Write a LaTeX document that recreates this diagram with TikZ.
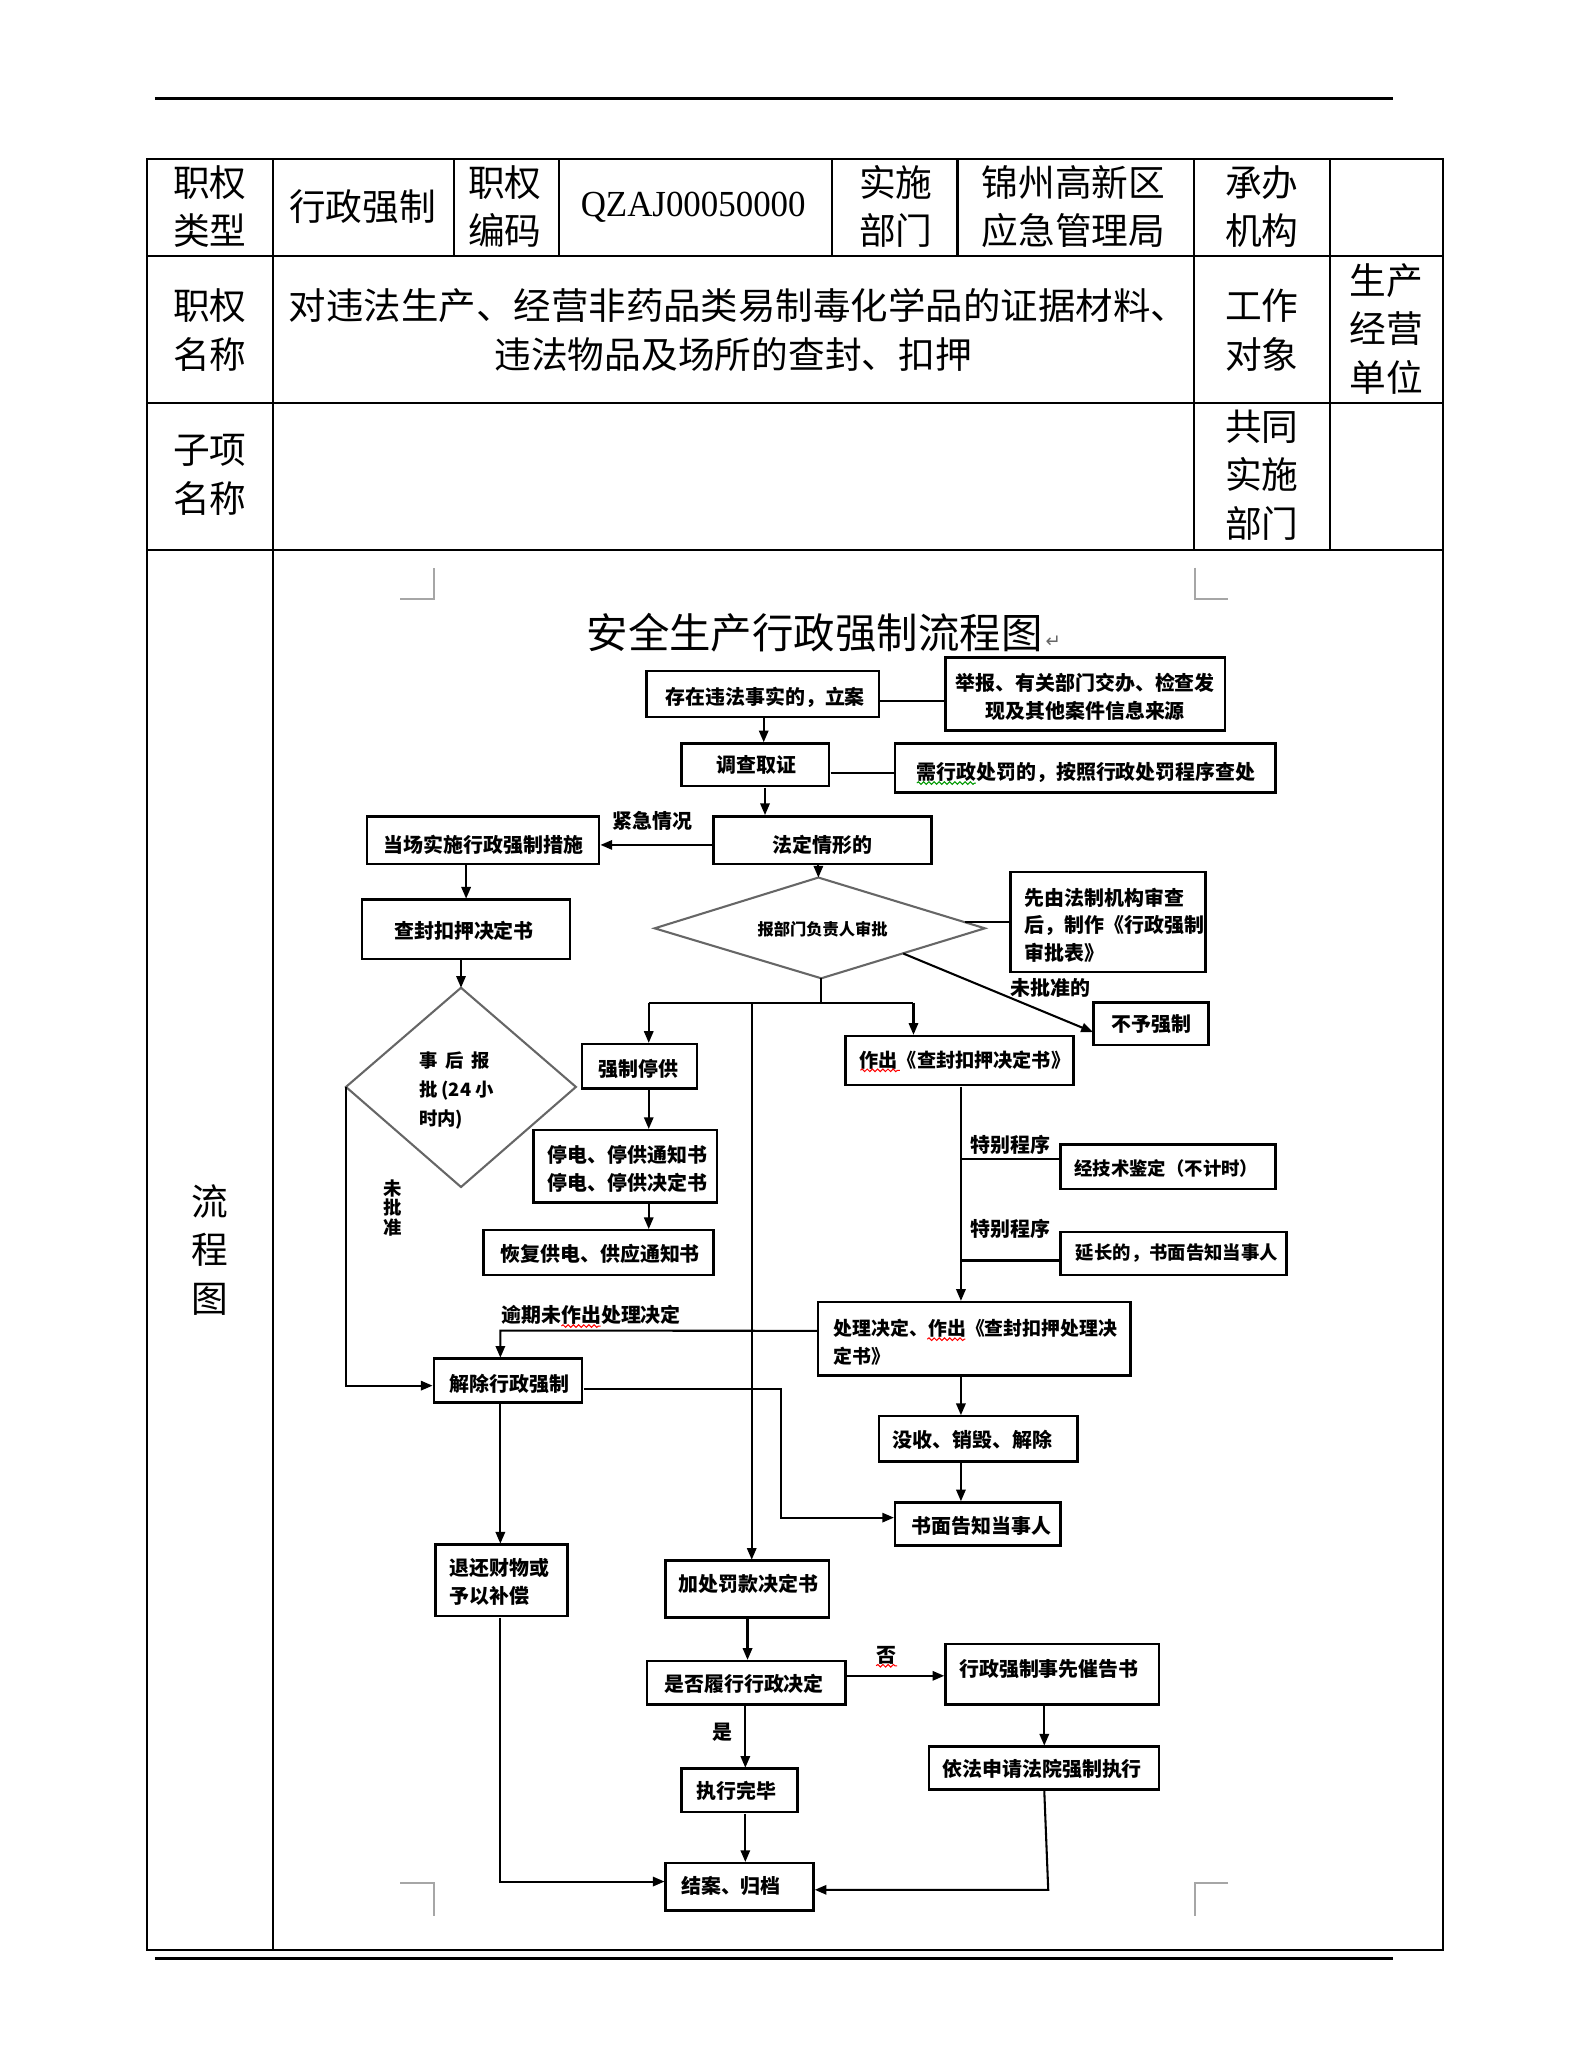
\documentclass[tikz,border=0pt]{standalone}
\usepackage{fontspec}
\newfontfamily\cjk{Noto Sans CJK SC}
\newfontfamily\lserif{Liberation Serif}
\newfontfamily\djv{DejaVu Sans}
\usetikzlibrary{arrows.meta,decorations.pathmorphing,calc}
\begin{document}
\begin{tikzpicture}[x=0.5pt,y=-0.5pt,
 tbl/.style={font=\cjk\fontsize{14pt}{18.5pt}\selectfont, align=center, inner sep=0pt},
 bx/.style={draw, line width=1pt, inner sep=0pt},
 ft/.style={font=\cjk\bfseries\fontsize{7.6pt}{10.6pt}\selectfont, inner sep=0pt},
 arr/.style={line width=0.8pt, -{Triangle[length=4.5pt,width=3.6pt]}},
 ln/.style={line width=0.8pt},
 dia/.style={draw=black!60, line width=0.8pt},
 cmark/.style={draw=black!35, line width=0.8pt},
 wavy/.style={draw=red, line width=0.4pt, decorate, decoration={snake, amplitude=0.5pt, segment length=2pt}},
 tl/.style={line width=0.8pt}
]
\fill[white] (0,0) rectangle (1224,1584);
\useasboundingbox (0,0) rectangle (1224,1584);
\begin{scope}[scale=1.011, transform shape]
% header / footer rules
\draw[line width=1.2pt] (118,75) -- (1062,75);
\draw[line width=1.2pt] (118,1493) -- (1062,1493);

% table
\draw[tl] (112,121) rectangle (1100,1487);
\draw[tl] (112,195) -- (1100,195);
\draw[tl] (112,307) -- (1100,307);
\draw[tl] (112,419) -- (1100,419);
\draw[tl] (208,121) -- (208,1487);
\foreach \xx in {346,426,634,730} {\draw[tl] (\xx,121) -- (\xx,195);}
\draw[tl] (910,121) -- (910,419);
\draw[tl] (1014,121) -- (1014,419);

\node[tbl] (ta) at (160,157.5) {职权\\类型};
\node[tbl] (tb) at (276.5,157.5) {行政强制};
\node[tbl] (tc) at (385,157.5) {职权\\编码};
\node[tbl, font=\lserif\fontsize{14pt}{16pt}\selectfont] (td) at (528.5,158) {\scalebox{0.95}[1]{QZAJ00050000}};
\node[tbl] (te) at (683,157.5) {实施\\部门};
\node[tbl] (tf) at (818.5,157.5) {锦州高新区\\应急管理局};
\node[tbl] (tg) at (962,157.5) {承办\\机构};
\node[tbl] (th) at (160,251.5) {职权\\名称};
\node[tbl] (ti1) at (563,233) {\scalebox{1.02}[1]{对违法生产、经营非药品类易制毒化学品的证据材料、}};
\node[tbl] (ti2) at (559,270) {违法物品及场所的查封、扣押};
\node[tbl] (tj) at (962,251.5) {工作\\对象};
\node[tbl] (tk) at (1057,250.5) {生产\\经营\\单位};
\node[tbl] (tl1) at (160,362) {子项\\名称};
\node[tbl] (tm) at (962,362) {共同\\实施\\部门};
\node[tbl] (tn) at (160,953) {流\\程\\图};

% corner marks
\draw[cmark] (305.3,456.9) -- (330.7,456.9) -- (330.7,432.7);
\draw[cmark] (910.9,432.7) -- (910.9,456.9) -- (936.3,456.9);
\draw[cmark] (305.3,1435.4) -- (330.7,1435.4) -- (330.7,1460.9);
\draw[cmark] (936.3,1435.4) -- (910.9,1435.4) -- (910.9,1460.9);

% title
\node[font=\cjk\fontsize{15.8pt}{18pt}\selectfont, inner sep=0pt] (title) at (621,482) {安全生产行政强制流程图};
\node[font=\djv\fontsize{7pt}{8pt}\selectfont, text=black!60, inner sep=0pt] (tret) at (803,489) {↵};

% boxes
\node[bx, minimum width=88.5pt, minimum height=17.5pt] (B1) at (581.5,529) {};
\node[ft] (B1t) at (583.4,531.9) {存在违法事实的，立案};
\node[bx, minimum width=106.6pt, minimum height=27.8pt] (B2) at (827.4,529.2) {};
\node[ft, align=center] (B2t) at (827.4,531.3) {举报、有关部门交办、检查发\\现及其他案件信息来源};
\node[bx, minimum width=56.25pt, minimum height=16.3pt] (B3) at (575.8,583.1) {};
\node[ft] (B3t) at (576.5,582.9) {调查取证};
\node[bx, minimum width=145pt, minimum height=18.5pt] (B4) at (827.4,585.5) {};
\node[ft] (B4t) at (828,589.2) {需行政处罚的，按照行政处罚程序查处};
\node[bx, minimum width=83pt, minimum height=18.2pt] (B5) at (627,640.5) {};
\node[ft] (B5t) at (627.3,643.9) {法定情形的};
\node[bx, minimum width=88.4pt, minimum height=18.2pt] (B6) at (368.3,640.5) {};
\node[ft] (B6t) at (368.7,643.9) {当场实施行政强制措施};
\node[ft] (L1) at (497.4,626) {紧急情况};
\node[bx, minimum width=79.25pt, minimum height=22.5pt] (B7) at (355.3,708.5) {};
\node[ft] (B7t) at (353.8,709.6) {查封扣押决定书};

% diamond 1
\coordinate (D1t) at (623.8,668.9);
\coordinate (D1r) at (750.7,707.6);
\coordinate (D1b) at (626,745.7);
\coordinate (D1l) at (499,707.6);
\draw[dia] (D1t) -- (D1r) -- (D1b) -- (D1l) -- cycle;
\node[ft, font=\cjk\bfseries\fontsize{6.2pt}{8pt}\selectfont] (D1x) at (627.2,708.1) {报部门负责人审批};

\node[bx, minimum width=74.3pt, minimum height=38.2pt] (B8) at (844.9,703) {};
\node[ft, align=left, anchor=west, font=\cjk\bfseries\fontsize{7.6pt}{10.5pt}\selectfont] (B8t) at (780.7,705.1) {先由法制机构审查\\后，制作《行政强制\\审批表》};
\node[bx, minimum width=43.85pt, minimum height=16.15pt] (B9) at (877.7,780.5) {};
\node[ft] (B9t) at (877.6,780.9) {不予强制};
\node[ft] (L2) at (801,753.4) {未批准的};
\node[bx, minimum width=43.85pt, minimum height=16.9pt] (B10) at (487.7,812.8) {};
\node[ft] (B10t) at (486.5,815.2) {强制停供};
\node[bx, minimum width=87.05pt, minimum height=18.7pt] (B11) at (731.6,808.5) {};
\node[ft, font=\cjk\bfseries\fontsize{7.3pt}{9pt}\selectfont] (B11t) at (735.7,808.1) {作出《查封扣押决定书》};

% diamond 2
\coordinate (D2t) at (351.4,752.9);
\coordinate (D2r) at (439,828.5);
\coordinate (D2b) at (351.4,904.8);
\coordinate (D2l) at (263.7,828.5);
\draw[dia] (D2t) -- (D2r) -- (D2b) -- (D2l) -- cycle;
\node[ft, align=left, anchor=west, font=\cjk\bfseries\fontsize{7pt}{11.1pt}\selectfont] (D2x) at (319.1,831.6) {事\hspace{3pt}后\hspace{3pt}报\\批 (24 小\\时内)};

\node[bx, minimum width=69.95pt, minimum height=27.65pt] (B12) at (476.8,889.2) {};
\node[ft, align=left, anchor=west, font=\cjk\bfseries\fontsize{7.6pt}{10.55pt}\selectfont] (B12t) at (417,891.2) {停电、停供通知书\\停电、停供决定书};
\node[bx, minimum width=87.7pt, minimum height=17.15pt] (B13) at (456.2,955) {};
\node[ft] (B13t) at (457.6,955.7) {恢复供电、供应通知书};
\node[ft, align=center, font=\cjk\bfseries\fontsize{7pt}{7.4pt}\selectfont] (L3) at (299.5,921) {未\\批\\准};
\node[ft] (L4) at (450.7,1002.8) {逾期未作出处理决定};
\node[ft] (L5) at (770.4,873) {特别程序};
\node[ft] (L6) at (770.4,936.6) {特别程序};
\node[bx, minimum width=56.55pt, minimum height=16.8pt] (B14) at (387.3,1052.7) {};
\node[ft] (B14t) at (388.4,1055) {解除行政强制};
\node[bx, minimum width=119.1pt, minimum height=28pt] (B15) at (742.9,1020.6) {};
\node[ft, align=left, anchor=west, font=\cjk\bfseries\fontsize{7.2pt}{10.4pt}\selectfont] (B15t) at (635.3,1023.4) {处理决定、作出《查封扣押处理决\\定书》};
\node[bx, minimum width=81.95pt, minimum height=17.05pt] (B16) at (890.4,889.5) {};
\node[ft, font=\cjk\bfseries\fontsize{7pt}{9pt}\selectfont] (B16t) at (889.2,890.8) {经技术鉴定（不计时）};
\node[bx, minimum width=86.3pt, minimum height=16.5pt] (B17) at (894.7,955.7) {};
\node[ft, font=\cjk\bfseries\fontsize{7pt}{9pt}\selectfont] (B17t) at (897.3,955.7) {延长的，书面告知当事人};
\node[bx, minimum width=75.65pt, minimum height=17.3pt] (B18) at (745.7,1097) {};
\node[ft] (B18t) at (741.5,1097.5) {没收、销毁、解除};
\node[bx, minimum width=63pt, minimum height=16.55pt] (B19) at (745.4,1161.9) {};
\node[ft] (B19t) at (748.4,1163.1) {书面告知当事人};
\node[bx, minimum width=50.35pt, minimum height=27.15pt] (B20) at (382.4,1204.8) {};
\node[ft, align=left, anchor=west, font=\cjk\bfseries\fontsize{7.6pt}{10.8pt}\selectfont] (B20t) at (342.2,1205.8) {退还财物或\\予以补偿};
\node[bx, minimum width=62.25pt, minimum height=21.6pt] (B21) at (569.8,1211.5) {};
\node[ft] (B21t) at (570.7,1207.7) {加处罚款决定书};
\node[bx, minimum width=75.7pt, minimum height=16.55pt] (B22) at (568.9,1282.8) {};
\node[ft] (B22t) at (567.3,1284) {是否履行行政决定};
\node[ft] (L7) at (675.7,1262.4) {否};
\node[bx, minimum width=81.45pt, minimum height=22.9pt] (B23) at (802.2,1276.4) {};
\node[ft] (B23t) at (799.7,1272.6) {行政强制事先催告书};
\node[bx, minimum width=87.65pt, minimum height=16.3pt] (B24) at (796,1347.9) {};
\node[ft] (B24t) at (794.6,1348.9) {依法申请法院强制执行};
\node[ft] (L8) at (551,1320.4) {是};
\node[bx, minimum width=44.25pt, minimum height=16.55pt] (B25) at (563.8,1365) {};
\node[ft] (B25t) at (561.5,1365.5) {执行完毕};
\node[bx, minimum width=56.25pt, minimum height=18.05pt] (B26) at (563.8,1438.3) {};
\node[ft] (B26t) at (557.3,1438) {结案、归档};

% connectors
\coordinate (p1) at ([yshift=-2.75pt]B1.east);
\draw[ln] (p1) -- (p1 -| B2.west);
\coordinate (p2) at ([xshift=0.25pt]B1.south);
\draw[arr] (p2) -- (p2 |- B3.north);
\coordinate (p3) at ([yshift=-3pt]B3.east);
\draw[ln] (p3) -- (p3 -| B4.west);
\coordinate (p4) at ([xshift=3.6pt]B3.south);
\draw[arr] (p4) -- (p4 |- B5.north);
\coordinate (p5) at ([yshift=-1.7pt]B5.west);
\draw[arr] (p5) -- (p5 -| B6.east);
\draw[arr] (B7.north |- B6.south) -- (B7.north);
\draw[arr] (D2t |- B7.south) -- (D2t);
\draw[arr] (D1t |- B5.south) -- (D1t);
\coordinate (D1q) at ($(D1t)!0.88!(D1r)$);
\draw[ln] (B8.west) -- (B8.west -| D1q);
\coordinate (D1s) at ($(D1r)!0.5!(D1b)$);
\coordinate (p9) at ([yshift=-3pt]B9.west);
\draw[arr] (D1s) -- (p9);
\coordinate (JM) at (626,764.3);
\coordinate (JL) at (494.5,764.3);
\coordinate (JR) at (696.3,764.3);
\coordinate (JV) at (573,764.3);
\draw[ln] (D1b) -- (JM);
\draw[ln] (JL) -- (JR);
\draw[arr] (JL) -- (JL |- B10.north);
\draw[arr] (JR) -- (JR |- B11.north);
\draw[arr] (JV) -- (JV |- B21.north);
\draw[arr] (JL |- B10.south) -- (JL |- B12.north);
\draw[arr] (JL |- B12.south) -- (JL |- B13.north);
\coordinate (VA) at ([xshift=0.35pt]B11.south);
\draw[arr] (VA) -- (VA |- B15.north);
\coordinate (K1) at (732.3,883.2);
\draw[ln] (K1) -- (K1 -| B16.west);
\coordinate (K2) at (732.3,960.8);
\draw[ln] (K2) -- (K2 -| B17.west);
\draw[arr] (VA |- B15.south) -- (VA |- B18.north);
\draw[arr] (VA |- B18.south) -- (VA |- B19.north);
\coordinate (p15) at ([yshift=3.2pt]B15.west);
\coordinate (K3) at (381.4,1014.2);
\draw[arr] (p15) -- (K3) -- (K3 |- B14.north);
\coordinate (K4) at (264.7,1056.2);
\draw[arr] (D2l) -- (D2l |- K4) -- (K4 -| B14.west);
\coordinate (p14) at ([yshift=-2.8pt]B14.east);
\coordinate (K5) at (595.2,1156.8);
\draw[arr] (p14) -- (p14 -| K5) -- (K5) -- (K5 -| B19.west);
\draw[arr] (K3 |- B14.south) -- (K3 |- B20.north);
\draw[arr] (B21.south) -- (B21.south |- B22.north);
\coordinate (p22) at ([yshift=2.85pt]B22.east);
\draw[arr] (p22) -- (p22 -| B23.west);
\draw[arr] (B24.north |- B23.south) -- (B24.north);
\coordinate (p25) at ([xshift=-0.45pt]B22.south);
\draw[arr] (p25) -- (p25 |- B25.north);
\draw[arr] (p25 |- B25.south) -- (p25 |- B26.north);
\coordinate (K7) at (381.4,1434.2);
\draw[arr] (K3 |- B20.south) -- (K7) -- (K7 -| B26.west);
\coordinate (K8) at (799,1440.5);
\draw[arr] (B24.south) -- (K8) -- (K8 -| B26.east);

% spell-check underlines
\draw[wavy] (656,816) -- (686,816);
\draw[wavy] (428,1011) -- (458,1011);
\draw[wavy] (707,1021) -- (736,1021);
\draw[wavy] (668,1270) -- (684,1270);
\draw[wavy, draw=green!60!black] (699,597) -- (744,597);
\end{scope}
\end{tikzpicture}
\end{document}
